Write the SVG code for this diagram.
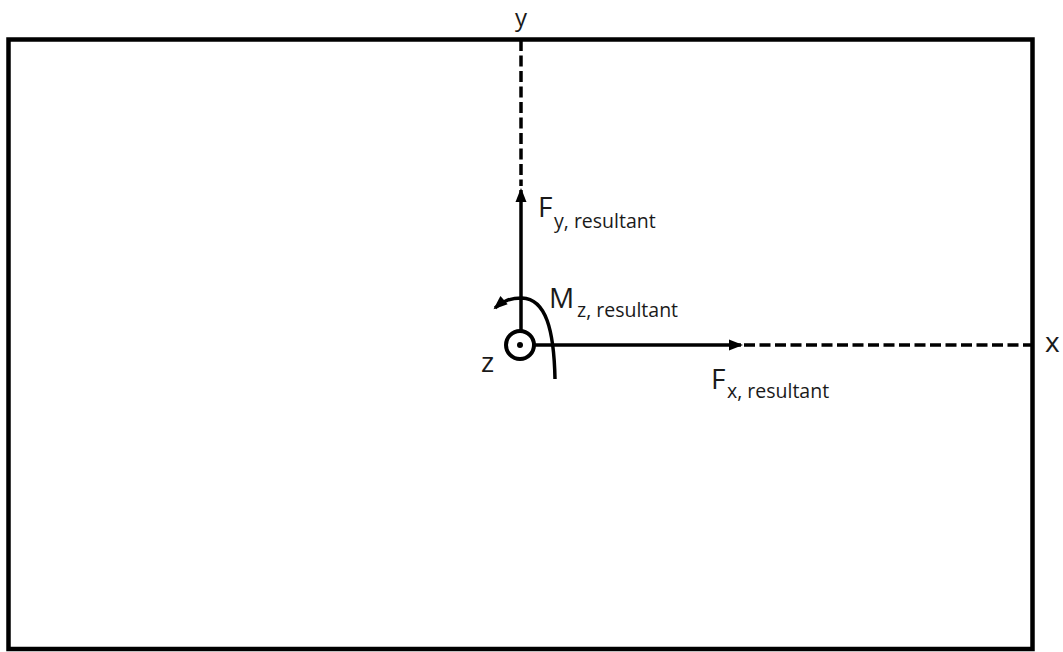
<svg xmlns="http://www.w3.org/2000/svg" width="1063" height="652" viewBox="0 0 1063 652">
<style>
.ln{stroke:#000;stroke-width:3.5;fill:none}
.dash{stroke:#000;stroke-width:3.5;fill:none;stroke-dasharray:11 4.5}
.t{font-family:"Open Sans","Liberation Sans",sans-serif;fill:#1a1a1a}
.big{font-size:28px}
.sub{font-size:19.5px}
</style>
<defs>
<marker id="ah" viewBox="0 0 14 12" markerWidth="14" markerHeight="12" refX="12" refY="6" orient="auto" markerUnits="userSpaceOnUse" overflow="visible">
<path d="M0,0.5 L14,6 L0,11.5 Z" fill="#000"/>
</marker>
</defs>
<rect id="frame" x="8.5" y="39.5" width="1024" height="609.5" fill="#fff" stroke="#000" stroke-width="4.5"/>
<g id="connectors">
<line class="dash" x1="521" y1="40" x2="521" y2="186"/>
<line class="ln" x1="521" y1="331" x2="521" y2="190" marker-end="url(#ah)"/>
<line class="ln" x1="535" y1="345" x2="741" y2="345" marker-end="url(#ah)"/>
<line class="dash" x1="744" y1="345" x2="1031" y2="345"/>
<path class="ln" d="M555,379 C554,330 546,299 522,298 C510,298 503,301 495,308" marker-end="url(#ah)"/>
</g>
<g id="z-axis">
<circle cx="520" cy="345" r="14" fill="#fff" stroke="#000" stroke-width="4"/>
<circle cx="520" cy="345" r="3" fill="#000"/>
</g>
<g id="labels">
<text class="t" font-size="24" x="521" y="25.5" text-anchor="middle">y</text>
<text class="t big" x="1045" y="352">x</text>
<text class="t big" x="481" y="372">z</text>
<text class="t big" x="538" y="217">F<tspan class="sub" x="554" y="228">y, resultant</tspan></text>
<text class="t big" x="549" y="308">M<tspan class="sub" x="577" y="317">z, resultant</tspan></text>
<text class="t big" x="711" y="389">F<tspan class="sub" x="727" y="398">x, resultant</tspan></text>
</g>
</svg>
